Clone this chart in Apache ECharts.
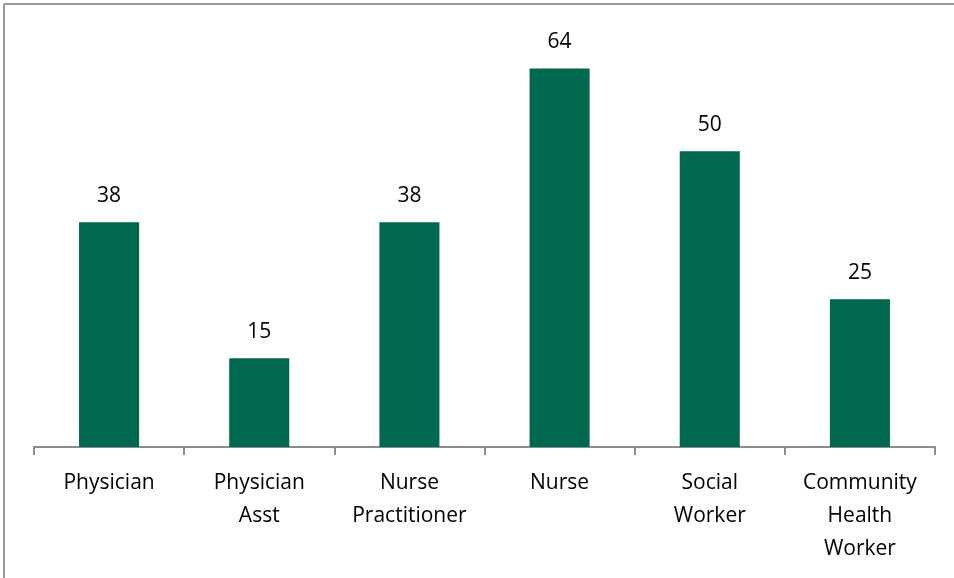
<!DOCTYPE html>
<html>
<head>
<meta charset="utf-8">
<script src="https://cdn.jsdelivr.net/npm/echarts@6/dist/echarts.min.js"></script>
<style>
  html, body { margin: 0; padding: 0; background: #fff; }
  #chart { width: 954px; height: 578px; }
</style>
</head>
<body>
<div id="chart"></div>
<script>
const categories = ['Physician', 'Physician\nAsst', 'Nurse\nPractitioner', 'Nurse', 'Social\nWorker', 'Community\nHealth\nWorker']
const values = [38, 15, 38, 64, 50, 25]

const chart = echarts.init(document.getElementById('chart'))
const font = '"Open Sans", "Noto Sans", sans-serif'

chart.setOption({
  animation: false,
  grid: { left: 34, right: 19, top: 33, bottom: 131 },
  xAxis: {
    type: 'category',
    data: categories,
    axisLine: { lineStyle: { color: '#8c8c8c', width: 2 } },
    axisTick: { show: true, length: 8, lineStyle: { color: '#8c8c8c', width: 2 } },
    axisLabel: {
      color: '#000',
      fontFamily: font,
      fontSize: 21,
      lineHeight: 33,
      margin: 20,
      interval: 0
    }
  },
  yAxis: {
    type: 'value',
    min: 0,
    max: 70,
    show: false,
    splitLine: { show: false }
  },
  series: [
    {
      type: 'bar',
      data: values,
      barWidth: '40%',
      itemStyle: { color: '#00684f' },
      label: {
        show: true,
        position: 'top',
        distance: 16,
        color: '#000',
        fontFamily: font,
        fontSize: 21
      }
    }
  ],
  graphic: [
    { type: 'line', shape: { x1: 4, y1: 4, x2: 954, y2: 4 }, style: { stroke: '#999', lineWidth: 2 } },
    { type: 'line', shape: { x1: 4, y1: 4, x2: 4, y2: 578 }, style: { stroke: '#999', lineWidth: 2 } }
  ]
})
</script>
</body>
</html>
